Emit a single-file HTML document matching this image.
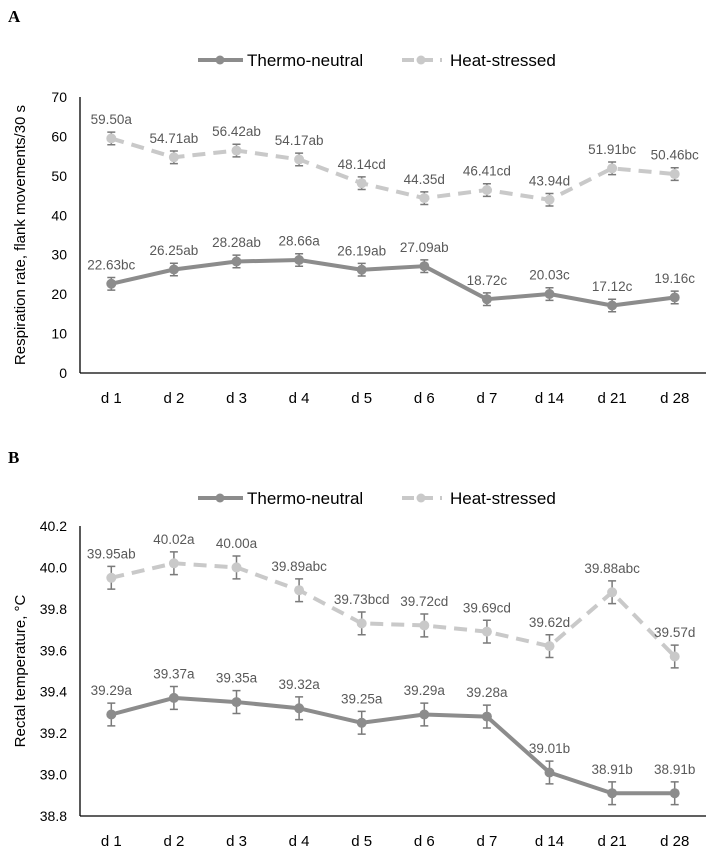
<!DOCTYPE html>
<html><head><meta charset="utf-8"><style>
html,body{margin:0;padding:0;background:#fff;}
svg{display:block;font-family:"Liberation Sans",Arial,sans-serif;}
</style></head><body>
<svg id="svg" width="708" height="846" viewBox="0 0 708 846"></svg>
<script>
const categories = ["d 1","d 2","d 3","d 4","d 5","d 6","d 7","d 14","d 21","d 28"];
const respTN = [22.63,26.25,28.28,28.66,26.19,27.09,18.72,20.03,17.12,19.16];
const respTNLab = ["22.63bc","26.25ab","28.28ab","28.66a","26.19ab","27.09ab","18.72c","20.03c","17.12c","19.16c"];
const respHS = [59.50,54.71,56.42,54.17,48.14,44.35,46.41,43.94,51.91,50.46];
const respHSLab = ["59.50a","54.71ab","56.42ab","54.17ab","48.14cd","44.35d","46.41cd","43.94d","51.91bc","50.46bc"];
const respTicks = [0,10,20,30,40,50,60,70];
const tempTN = [39.29,39.37,39.35,39.32,39.25,39.29,39.28,39.01,38.91,38.91];
const tempTNLab = ["39.29a","39.37a","39.35a","39.32a","39.25a","39.29a","39.28a","39.01b","38.91b","38.91b"];
const tempHS = [39.95,40.02,40.00,39.89,39.73,39.72,39.69,39.62,39.88,39.57];
const tempHSLab = ["39.95ab","40.02a","40.00a","39.89abc","39.73bcd","39.72cd","39.69cd","39.62d","39.88abc","39.57d"];
const tempTicks = [38.8,39.0,39.2,39.4,39.6,39.8,40.0,40.2];

const NS="http://www.w3.org/2000/svg";
const svg=document.getElementById('svg');
function mk(tag,attrs,parent,text){const e=document.createElementNS(NS,tag);for(const k in attrs)e.setAttribute(k,attrs[k]);if(text!==undefined)e.textContent=text;(parent||svg).appendChild(e);return e;}

function chart(cfg){
  const g=mk('g',{});
  
  
  const x0=80,band=62.6;
  const xs=i=>x0+band*(i+0.5);
  const ys=v=>cfg.yBot-(v-cfg.min)/(cfg.max-cfg.min)*(cfg.yBot-cfg.yTop);
  const pl=mk('text',{x:8,y:cfg.panelY,'font-family':'Liberation Serif,serif','font-weight':'bold','font-size':17,fill:'#000'},g,cfg.panel);
  
  
  // legend
  const lg=mk('g',{},g);
  
  
  const l1=mk('g',{},lg);
  
  
  mk('line',{x1:198,x2:243,y1:cfg.legY,y2:cfg.legY,stroke:'#8c8c8c','stroke-width':4},l1);
  mk('circle',{cx:220,cy:cfg.legY,r:4.5,fill:'#8c8c8c'},l1);
  mk('text',{x:247,y:cfg.legY+6,'font-size':17,fill:'#000'},l1,'Thermo-neutral');
  const l2=mk('g',{},lg);
  
  
  mk('line',{x1:402,x2:442,y1:cfg.legY,y2:cfg.legY,stroke:'#c9c9c9','stroke-width':4,'stroke-dasharray':'12 7'},l2);
  mk('circle',{cx:421,cy:cfg.legY,r:4.5,fill:'#c9c9c9'},l2);
  mk('text',{x:450,y:cfg.legY+6,'font-size':17,fill:'#000'},l2,'Heat-stressed');
  // axes
  const ya=mk('line',{x1:x0,x2:x0,y1:cfg.yTop,y2:cfg.yBot,stroke:'#000','stroke-width':1.3},g);
  
  
  const xa=mk('line',{x1:x0,x2:x0+band*10,y1:cfg.yBot,y2:cfg.yBot,stroke:'#000','stroke-width':1.3},g);
  
  
  cfg.ticks.forEach(t=>{
    const tl=mk('text',{x:67,y:ys(t)+5,'text-anchor':'end','font-size':14,fill:'#000'},g,cfg.fmt(t));
    
    
  });
  categories.forEach((c,i)=>{
    const tl=mk('text',{x:xs(i),y:cfg.yBot+30,'text-anchor':'middle','font-size':15,fill:'#000'},g,c);
    
    
  });
  const yt=mk('text',{x:0,y:0,transform:`translate(25,${(cfg.yTop+cfg.yBot)/2}) rotate(-90)`,'text-anchor':'middle','font-size':15,fill:'#000'},g,cfg.title);
  
  
  // series
  function series(vals,labs,color,dash,name){
    const sg=mk('g',{},g);
    
    
    const pts=vals.map((v,i)=>xs(i)+','+ys(v)).join(' ');
    const pl=mk('polyline',{points:pts,fill:'none',stroke:color,'stroke-width':4,'stroke-linejoin':'round'},sg);
    if(dash)pl.setAttribute('stroke-dasharray','13 8');
    
    
    vals.forEach((v,i)=>{
      const x=xs(i),yt=ys(v+cfg.err),yb=ys(v-cfg.err);
      const eb=mk('path',{d:`M${x},${yt}V${yb}M${x-4},${yt}H${x+4}M${x-4},${yb}H${x+4}`,stroke:'#7a7a7a','stroke-width':1.5,fill:'none'},sg);
      
      
      const pt=mk('circle',{cx:x,cy:ys(v),r:5,fill:color},sg);
      
      
      const lb=mk('text',{x:x,y:yt-8,'text-anchor':'middle','font-size':13.5,fill:'#595959'},sg,labs[i]);
      
      
    });
  }
  series(cfg.tn,cfg.tnLab,'#8c8c8c',false,'series-thermo-neutral');
  series(cfg.hs,cfg.hsLab,'#c9c9c9',true,'series-heat-stressed');
}
chart({name:'chart-respiration',panel:'A',panelY:22,legY:60,yTop:97,yBot:373,min:0,max:70,ticks:respTicks,fmt:t=>String(t),
  title:'Respiration rate, flank movements/30 s',tn:respTN,tnLab:respTNLab,hs:respHS,hsLab:respHSLab,err:1.6});
chart({name:'chart-rectal-temperature',panel:'B',panelY:463,legY:498,yTop:526,yBot:816,min:38.8,max:40.2,ticks:tempTicks,fmt:t=>t.toFixed(1),
  title:'Rectal temperature, °C',tn:tempTN,tnLab:tempTNLab,hs:tempHS,hsLab:tempHSLab,err:0.055});
</script>
</body></html>
